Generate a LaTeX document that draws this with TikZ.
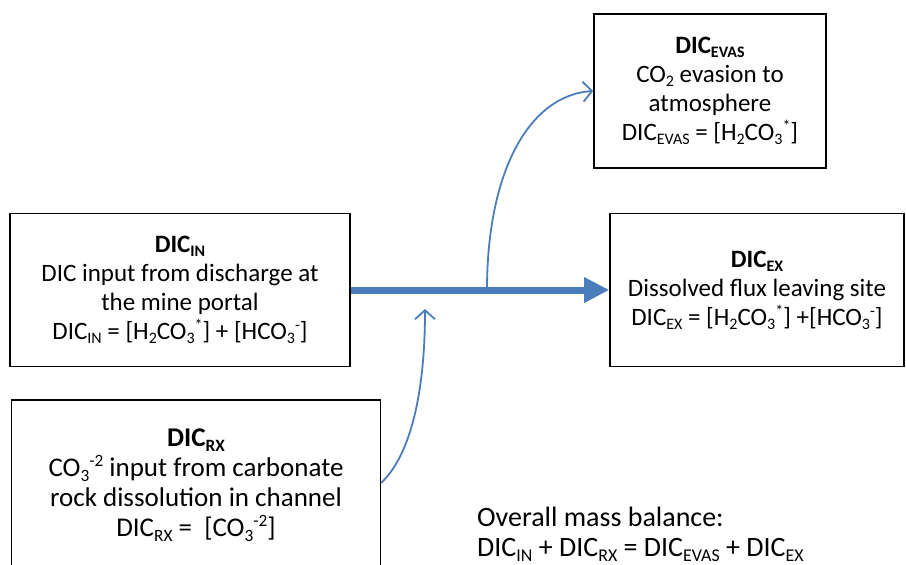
\documentclass[tikz,border=0pt]{standalone}
\usepackage{fontspec}
\setmainfont{Carlito}
\usetikzlibrary{arrows.meta}

\definecolor{flowblue}{RGB}{74,126,187}
\newcommand{\lowtxt}[1]{\raisebox{-0.35ex}{\scalebox{0.64}{#1}}}
\newcommand{\hightxt}[1]{\raisebox{0.75ex}{\scalebox{0.64}{#1}}}
\newcommand{\boxhead}[1]{{\bfseries #1}}

\begin{document}
\begin{tikzpicture}[x=1pt,y=-1pt,
  fluxbox/.style={draw, line width=1.6pt, align=center, inner sep=0pt,
    font=\fontsize{25}{29}\selectfont},
  flow/.style={draw=flowblue, line width=1.8pt, -{Straight Barb[length=9pt,width=20pt]}}]
\useasboundingbox (0,0) rectangle (906,565);
% source and sink boxes
\node[fluxbox, minimum width=340pt, minimum height=153pt] (in) at (180,290)
  {\boxhead{DIC\lowtxt{IN}}\\ DIC input from discharge at\\ the mine portal\\
   DIC\lowtxt{IN} = [H\lowtxt{2}CO\lowtxt{3}\hightxt{*}] + [HCO\lowtxt{3}\hightxt{-}]};
\node[fluxbox, minimum width=232pt, minimum height=154pt] (evas) at (710,91)
  {\boxhead{DIC\lowtxt{EVAS}}\\ CO\lowtxt{2} evasion to\\ atmosphere\\
   DIC\lowtxt{EVAS} = [H\lowtxt{2}CO\lowtxt{3}\hightxt{*}]};
\node[fluxbox, minimum width=294pt, minimum height=153pt] (ex) at (757,290)
  {\boxhead{DIC\lowtxt{EX}}\\ Dissolved flux leaving site\\
   DIC\lowtxt{EX} = [H\lowtxt{2}CO\lowtxt{3}\hightxt{*}] +[HCO\lowtxt{3}\hightxt{-}]};
\node[fluxbox, font=\fontsize{27}{30}\selectfont, minimum width=369pt, anchor=north,
  text depth=90pt, inner ysep=29pt] (rx) at (196,399)
  {\boxhead{DIC\lowtxt{RX}}\\ CO\lowtxt{3}\hightxt{-2} input from carbonate\\ rock dissolution in channel\\
   DIC\lowtxt{RX} =\ \ [CO\lowtxt{3}\hightxt{-2}]};
% balance text
\node[anchor=north west, align=left, inner sep=0pt, font=\fontsize{28}{30}\selectfont] (balance) at (477,507)
  {Overall mass balance:\\ DIC\lowtxt{IN} + DIC\lowtxt{RX} = DIC\lowtxt{EVAS} + DIC\lowtxt{EX}};
% connectors
\coordinate (split) at (487,290);
\coordinate (rxport) at (381,483);
\coordinate (join) at (425,309);
\draw[flowblue, line width=7pt, -{Triangle[length=25pt,width=24pt]}] (in) -- (ex);
\draw[flow] (split) .. controls (487,170) and (530,95) .. (evas.west);
\draw[flow] (rxport) .. controls (408,458) and (425,400) .. (join);
\end{tikzpicture}
\end{document}
